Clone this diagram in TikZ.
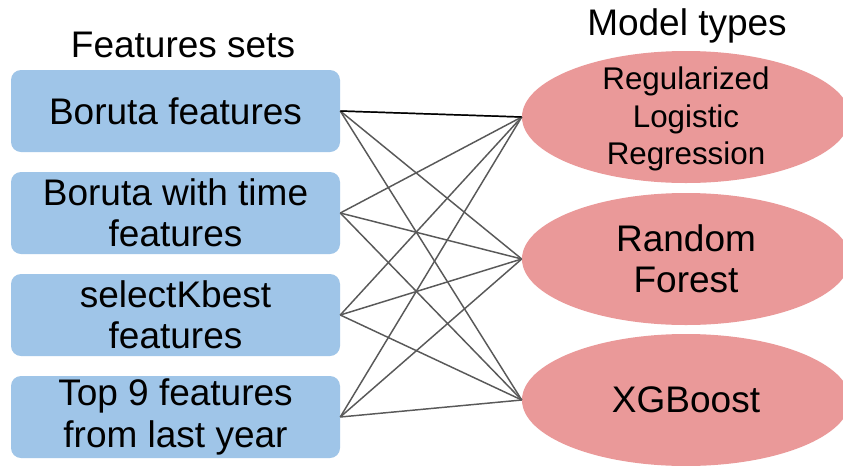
\documentclass[tikz,border=0pt]{standalone}
\usepackage{fontspec}
\setmainfont{Liberation Sans}
\usetikzlibrary{shapes.geometric}
\definecolor{boxblue}{HTML}{9FC5E8}
\definecolor{ellpink}{HTML}{EA9999}
\definecolor{linegray}{HTML}{595959}
\begin{document}
\begin{tikzpicture}[x=0.75pt,y=-0.75pt,
  featbox/.style={rectangle,rounded corners=7.5pt,fill=boxblue,draw=none,
    minimum width=246.75pt,minimum height=61.5pt,inner sep=0pt},
  modelell/.style={ellipse,fill=ellpink,draw=none,minimum width=246pt,
    minimum height=99pt,inner sep=0pt},
  big/.style={font=\fontsize{27.75}{31}\selectfont,align=center,inner sep=0pt},
  small/.style={font=\fontsize{23.5}{28}\selectfont,align=center,inner sep=0pt},
  conn/.style={draw=linegray,line width=1.1pt}]
\useasboundingbox (0,0) rectangle (843,465);
\clip (0,0) rectangle (843,465);
\fill[white] (0,0) rectangle (843,465);
% titles
\node[big] (ft) at (183,45) {Features sets};
\node[big] (mt) at (687,26) {Model types};
% feature boxes
\node[featbox] (f1) at (175.5,111) {};
\node[featbox] (f2) at (175.5,213) {};
\node[featbox] (f3) at (175.5,315) {};
\node[featbox] (f4) at (175.5,417) {};
\node[big] (f1t) at (f1) {Boruta features};
\node[big] (f2t) at (f2) {Boruta with time\\features};
\node[big] (f3t) at (f3) {selectKbest\\features};
\node[big] (f4t) at (f4) {Top 9 features\\from last year};
% model ellipses
\node[modelell] (m1) at (686,117) {};
\node[modelell] (m2) at (686,259) {};
\node[modelell] (m3) at (686,400) {};
\node[small] (m1t) at (686,119) {Regularized\\Logistic\\Regression};
\node[big] (m2t) at (m2) {Random\\Forest};
\node[big] (m3t) at (m3) {XGBoost};
% connectors
\foreach \f in {f1,f2,f3,f4}{
  \foreach \m in {m1,m2,m3}{
    \draw[conn] (\f.east) -- (\m.west);
  }
}
\draw[draw=black,line width=1.1pt] (f1.east) -- (m1.west);
\end{tikzpicture}
\end{document}
